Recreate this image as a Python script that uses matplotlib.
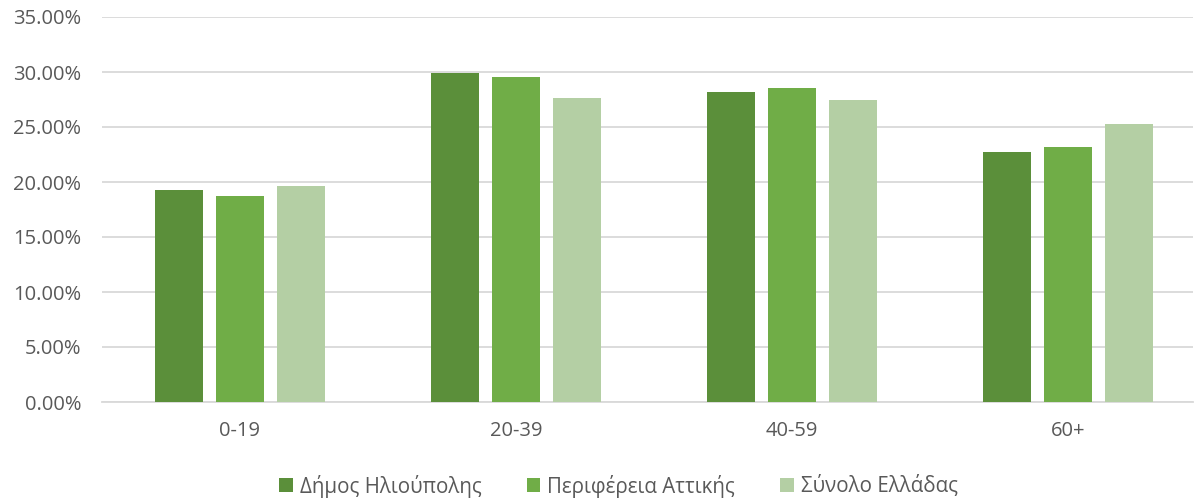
import matplotlib
matplotlib.use("Agg")
import matplotlib.pyplot as plt
from matplotlib.ticker import FuncFormatter, MultipleLocator
import numpy as np

plt.rcParams['font.family'] = ['Open Sans', 'DejaVu Sans']

age_groups = ["0-19", "20-39", "40-59", "60+"]
series_names = ["Δήμος Ηλιούπολης", "Περιφέρεια Αττικής", "Σύνολο Ελλάδας"]
dimos = [19.27, 29.88, 28.20, 22.75]
periferia = [18.75, 29.57, 28.57, 23.18]
synolo = [19.66, 27.60, 27.50, 25.27]
colors = ["#5B8F3A", "#70AD47", "#B4CFA4"]

text_col = "#595959"
fig = plt.figure(figsize=(12.01, 4.99), dpi=100)
ax = fig.add_axes([102 / 1201, 1 - 402 / 499, 1091 / 1201, 385 / 499])

x = np.arange(len(age_groups))
width = 0.174
offsets = [-0.221, 0, 0.221]
for vals, name, col, off in zip([dimos, periferia, synolo], series_names, colors, offsets):
    ax.bar(x + off, vals, width, color=col, label=name, zorder=3)

# the plot area is slightly narrower than four full category slots
ax.set_xlim(-0.5, -0.5 + 1091 / 276)
ax.set_ylim(0, 35)
ax.yaxis.set_major_locator(MultipleLocator(5))
ax.yaxis.set_major_formatter(FuncFormatter(lambda v, p: f"{v:.2f}%"))
ax.set_xticks(x)
ax.set_xticklabels(age_groups)
ax.grid(axis='y', color="#D9D9D9", linewidth=1.3, zorder=0)
for s in ["top", "right", "left"]:
    ax.spines[s].set_visible(False)
ax.spines["bottom"].set_color("#D9D9D9")
ax.spines["bottom"].set_linewidth(1.3)
ax.tick_params(axis='both', length=0, labelsize=14.5, labelcolor=text_col)
ax.tick_params(axis='y', pad=15)
ax.tick_params(axis='x', pad=14)

leg = fig.legend(loc="center", bbox_to_anchor=(0.515, 1 - 486 / 499), ncol=3,
                 frameon=False, fontsize=14.8, handlelength=0.65, handleheight=0.65,
                 handletextpad=0.35, columnspacing=2.2)
for t in leg.get_texts():
    t.set_color(text_col)

fig.savefig("out.png", dpi=100)
